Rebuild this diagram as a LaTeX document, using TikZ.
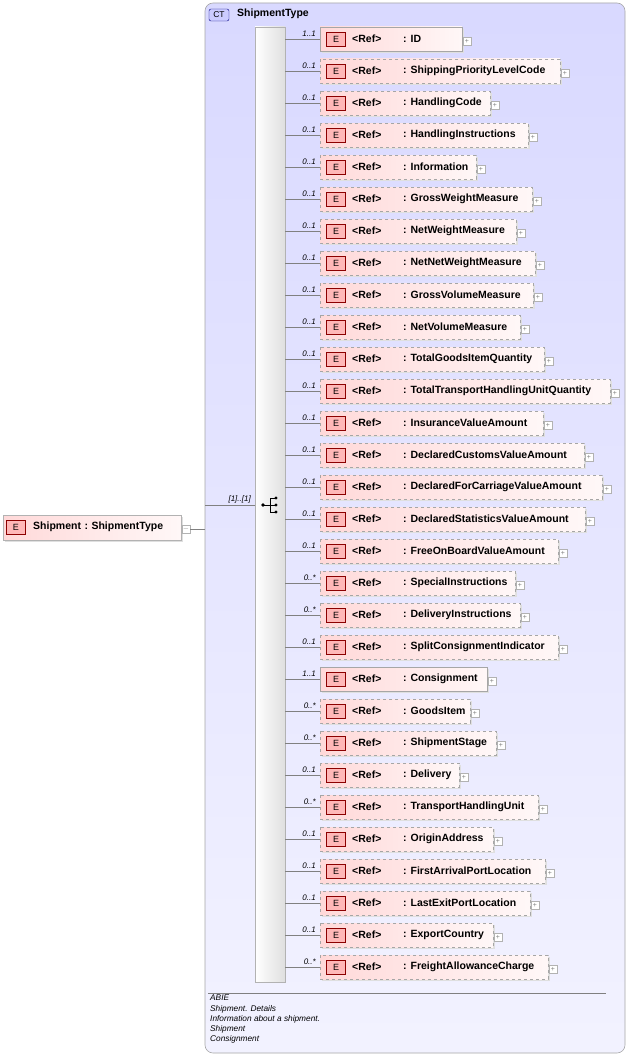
\documentclass[tikz,border=0pt]{standalone}
\usepackage{fontspec}
\setmainfont{Liberation Sans}
\begin{document}
\begin{tikzpicture}[x=1pt,y=-1pt,
  eicon/.style={draw=red!55!black,fill=red!28,minimum width=19pt,minimum height=14pt,inner sep=0pt,font=\fontsize{9}{9}\selectfont},
  plusbox/.style={draw=gray!60,fill=white,minimum size=8pt,inner sep=0pt,font=\fontsize{7}{7}\selectfont\color{gray}},
  mult/.style={font=\fontsize{8}{9}\selectfont\itshape,anchor=south east,inner sep=1pt},
  conn/.style={draw=gray,line width=0.5pt},
  lbl/.style={font=\fontsize{10.5}{12}\selectfont\bfseries,anchor=west,inner sep=0pt},
  req/.style={draw=gray!70},
  opt/.style={draw=gray!70,dashed}]
\useasboundingbox (0,0) rectangle (629,1057);
% CT box
\draw[gray!70,rounded corners=8pt,top color=blue!15,bottom color=blue!5,line width=0.6pt] (205,3) rectangle (625,1053);
\node[draw=blue!50!black,fill=blue!20,rounded corners=2pt,minimum width=20pt,minimum height=12pt,inner sep=0pt,font=\fontsize{8.5}{9}\selectfont] (ct) at (219,15) {CT};
\node[lbl] (cttitle) at (237,14) {ShipmentType};
% sequence bar
\draw[gray!60,left color=white,right color=gray!25] (255,27) rectangle (285,982);
\fill (263,505) circle (1.8pt);
\draw[line width=0.7pt] (263,505) -- (270,505) (270,498) -- (270,512) (270,498) -- (276,498) (270,505) -- (276,505) (270,512) -- (276,512);
\fill (276,498) circle (1.6pt) (276,505) circle (1.6pt) (276,512) circle (1.6pt);
% left node
\fill[gray!25] (5,517) rectangle (183,542);
\shade[left color=red!15,right color=red!3] (3,515) rectangle (181,540);
\draw[gray!60] (3,515) rectangle (181,540);
\node[eicon] (se) at (16,527) {E};
\node[lbl] (st) at (33,527) {Shipment\,\,:\,\,ShipmentType};
\node[plusbox] (minus) at (186,529) {$-$};
\coordinate (j) at (205,529);
\coordinate (j2) at (205,505);
\coordinate (sq) at (255,505);
\draw[conn] (minus) -- (j);
\draw[conn] (j2) -- (sq);
\node[mult,anchor=south east] (m0) at (252,504) {[1]..[1]};
% rows
\foreach \i/\n/\m/\r/\s in {
0/ID/1..1/462/req,
1/ShippingPriorityLevelCode/0..1/560/opt,
2/HandlingCode/0..1/490/opt,
3/HandlingInstructions/0..1/528/opt,
4/Information/0..1/476/opt,
5/GrossWeightMeasure/0..1/532/opt,
6/NetWeightMeasure/0..1/516/opt,
7/NetNetWeightMeasure/0..1/535/opt,
8/GrossVolumeMeasure/0..1/533/opt,
9/NetVolumeMeasure/0..1/520/opt,
10/TotalGoodsItemQuantity/0..1/544/opt,
11/TotalTransportHandlingUnitQuantity/0..1/610/opt,
12/InsuranceValueAmount/0..1/543/opt,
13/DeclaredCustomsValueAmount/0..1/584/opt,
14/DeclaredForCarriageValueAmount/0..1/602/opt,
15/DeclaredStatisticsValueAmount/0..1/585/opt,
16/FreeOnBoardValueAmount/0..1/558/opt,
17/SpecialInstructions/0..*/515/opt,
18/DeliveryInstructions/0..*/520/opt,
19/SplitConsignmentIndicator/0..1/558/opt,
20/Consignment/1..1/487/req,
21/GoodsItem/0..*/470/opt,
22/ShipmentStage/0..*/496/opt,
23/Delivery/0..1/459/opt,
24/TransportHandlingUnit/0..*/538/opt,
25/OriginAddress/0..1/493/opt,
26/FirstArrivalPortLocation/0..1/545/opt,
27/LastExitPortLocation/0..1/530/opt,
28/ExportCountry/0..1/493/opt,
29/FreightAllowanceCharge/0..*/548/opt}{
  \pgfmathsetmacro{\y}{39+32*\i}
  \fill[gray!25] (322,\y-10) rectangle (\r+2,\y+14);
  \shade[left color=red!15,right color=red!3] (320,\y-12) rectangle (\r,\y+12);
  \draw[\s] (320,\y-12) rectangle (\r,\y+12);
  \node[eicon] (e\i) at (336,\y) {E};
  \node[lbl] (r\i) at (352,\y) {<Ref>};
  \node[lbl] (n\i) at (403,\y) {: \n};
  \node[plusbox] (p\i) at (\r+5,\y+2) {+};
  \coordinate (a\i) at (285,\y);
  \coordinate (b\i) at (320,\y);
  \draw[conn] (a\i) -- (b\i);
  \node[mult] (m\i) at (317,\y-1) {\m};
}
% annotation
\draw[gray] (208,993) -- (606,993);
\node[anchor=north west,align=left,inner sep=0pt,font=\fontsize{8.3}{10.2}\selectfont\itshape] (ann) at (210,995) {ABIE\\Shipment. Details\\Information about a shipment.\\Shipment\\Consignment};
\end{tikzpicture}
\end{document}
